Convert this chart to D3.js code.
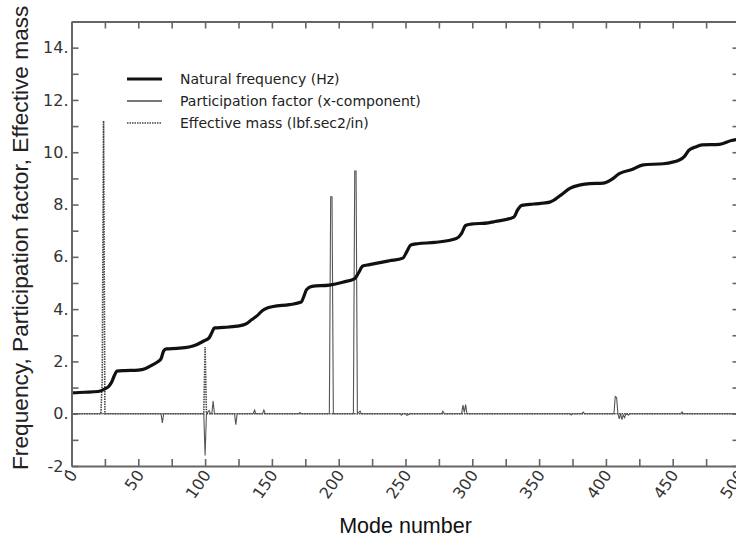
<!DOCTYPE html>
<html>
<head>
<meta charset="utf-8">
<script src="https://cdn.jsdelivr.net/npm/d3@7"></script>
<style>
  html, body { margin: 0; padding: 0; background: #fff; }
  svg { display: block; }
</style>
</head>
<body>
<svg id="chart" width="736" height="537"></svg>
<script>
// Natural frequency (Hz) by mode number
const freqModes  = [0, 10, 20, 25, 28, 30, 32, 34, 40, 50, 55, 60, 65, 67, 69, 71, 79, 88, 94, 99,
                    103, 105, 107, 114, 124, 130, 135, 139, 143, 147, 151, 163, 172, 174, 176, 180,
                    193, 203, 212, 215, 218, 223, 238, 248, 251, 254, 259, 272, 288, 292, 295, 299,
                    312, 317, 331, 334, 337, 346, 358, 366, 373, 381, 388, 398, 404, 410, 420, 428,
                    443, 455, 459, 462, 467, 472, 485, 494, 500];
const freqValues = [0.80, 0.82, 0.85, 0.95, 1.05, 1.20, 1.45, 1.63, 1.65, 1.67, 1.72, 1.85, 2.00, 2.10, 2.40, 2.48, 2.50, 2.55, 2.65, 2.78,
                    2.90, 3.10, 3.28, 3.30, 3.35, 3.42, 3.60, 3.75, 3.95, 4.05, 4.10, 4.17, 4.27, 4.50, 4.75, 4.87,
                    4.92, 5.03, 5.17, 5.40, 5.65, 5.70, 5.85, 5.95, 6.20, 6.45, 6.50, 6.55, 6.70, 6.90, 7.20, 7.25,
                    7.30, 7.35, 7.52, 7.80, 7.97, 8.02, 8.09, 8.35, 8.62, 8.75, 8.80, 8.82, 8.95, 9.18, 9.35, 9.52,
                    9.56, 9.70, 9.85, 10.07, 10.20, 10.28, 10.30, 10.45, 10.50];

// Participation factor (x-component)
const pfModes  = [0, 67, 68, 69, 99, 100, 101, 103, 104, 105, 106, 107, 122, 123, 124, 136, 137, 138, 143, 144, 145,
                  170, 171, 172, 193, 194, 195, 196, 211, 212, 213, 214, 216, 217, 246, 247, 248, 250, 251, 252, 253,
                  277, 278, 279, 292, 293, 294, 295, 296, 373, 374, 375, 382, 383, 384,
                  406, 407, 408, 409, 410, 411, 412, 413, 414, 415, 417, 418, 456, 457, 458, 500];
const pfValues = [0, 0, -0.35, 0, 0, -1.6, 0, 0.12, 0, 0, 0.48, 0, 0, -0.42, 0, 0, 0.14, 0, 0, 0.14, 0,
                  0, 0.05, 0, 0, 8.3, 8.3, 0, 0, 9.28, 9.28, 0, 0.1, 0, 0, -0.06, 0, 0, -0.06, -0.04, 0,
                  0, 0.1, 0, 0, 0.33, 0.05, 0.35, 0, 0, -0.05, 0, 0, 0.06, 0,
                  0, 0.66, 0.62, 0, -0.2, 0, -0.23, -0.05, -0.15, 0, -0.05, 0, 0, 0.07, 0, 0];

// Effective mass (lbf.sec2/in)
const emModes  = [0, 22, 23, 24, 25, 99, 100, 101, 500];
const emValues = [0, 0, 1.3, 11.2, 0, 0, 2.55, 0, 0];

// Axis ticks
const xTicks = d3.range(0, 501, 25);
const yTicks = d3.range(-2, 15, 1);

const legendLabels = ["Natural frequency (Hz)", "Participation factor (x-component)", "Effective mass (lbf.sec2/in)"];

const svg = d3.select("#chart");
const plotLeft = 71.5, plotRight = 739.5, plotTop = 21.5, plotBottom = 466;

const x = d3.scaleLinear().domain([0, 500]).range([plotLeft, plotRight]);
const y = d3.scaleLinear().domain([-2, 15]).range([plotBottom, plotTop]);

svg.append("defs").append("clipPath").attr("id", "plot")
  .append("rect").attr("x", plotLeft).attr("y", plotTop)
  .attr("width", plotRight - plotLeft).attr("height", plotBottom - plotTop);

const series = (modes, values) => modes.map((m, i) => [m, values[i]]);
const line = d3.line().x(d => x(d[0])).y(d => y(d[1]));
const smooth = d3.line().x(d => x(d[0])).y(d => y(d[1])).curve(d3.curveMonotoneX);

const plot = svg.append("g").attr("clip-path", "url(#plot)");

// Effective mass (dotted)
plot.append("path").datum(series(emModes, emValues))
  .attr("d", line).attr("fill", "none")
  .attr("stroke", "#444").attr("stroke-width", 1.6).attr("stroke-dasharray", "1.5,1");

// Participation factor (thin grey)
plot.append("path").datum(series(pfModes, pfValues))
  .attr("d", line).attr("fill", "none")
  .attr("stroke", "#555").attr("stroke-width", 1.1);

// Natural frequency (thick black)
plot.append("path").datum(series(freqModes, freqValues))
  .attr("d", smooth).attr("fill", "none")
  .attr("stroke", "#111").attr("stroke-width", 3.2).attr("stroke-linejoin", "round");

// Axes
const axisColor = "#666";
function styleAxis(g) {
  g.select(".domain").attr("stroke", axisColor).attr("stroke-width", 2);
  g.selectAll(".tick line").attr("stroke", axisColor).attr("stroke-width", 1.6);
  g.selectAll("text").attr("fill", "#333")
    .style("font-family", "'DejaVu Sans', Verdana, sans-serif").style("font-size", "16px");
}

const gx = svg.append("g").attr("transform", `translate(0,${plotBottom})`)
  .call(d3.axisBottom(x).tickValues(xTicks).tickSize(-7).tickSizeOuter(0)
    .tickFormat(d => d % 50 === 0 ? d : ""))
  .call(styleAxis);
gx.selectAll(".tick text")
  .attr("x", 0).attr("y", 0).attr("dy", 0)
  .attr("text-anchor", "end")
  .attr("transform", "translate(6,9) rotate(-55)");

svg.append("g").attr("transform", `translate(0,${plotTop})`)
  .call(d3.axisTop(x).tickValues(xTicks).tickSize(-7).tickSizeOuter(0).tickFormat(""))
  .call(styleAxis);

svg.append("g").attr("transform", `translate(${plotLeft},0)`)
  .call(d3.axisLeft(y).tickValues(yTicks).tickSize(-7).tickSizeOuter(0)
    .tickFormat(d => d % 2 === 0 ? d + "." : ""))
  .call(styleAxis);

svg.append("g").attr("transform", `translate(${plotRight},0)`)
  .call(d3.axisRight(y).tickValues(yTicks).tickSize(-7).tickSizeOuter(0).tickFormat(""))
  .call(styleAxis);

// Axis titles
svg.append("text")
  .attr("transform", "translate(28,470) rotate(-90)")
  .attr("text-anchor", "start")
  .style("font-family", "'Liberation Sans', Arial, sans-serif").style("font-size", "22.7px")
  .attr("fill", "#222")
  .text("Frequency, Participation factor, Effective mass");

svg.append("text")
  .attr("x", 405.5).attr("y", 532.5)
  .attr("text-anchor", "middle")
  .style("font-family", "'Liberation Sans', Arial, sans-serif").style("font-size", "21.5px")
  .attr("fill", "#111")
  .text("Mode number");

// Legend
const legendStyles = [
  { stroke: "#111", width: 3.2, dash: null },
  { stroke: "#777", width: 2, dash: null },
  { stroke: "#444", width: 1.4, dash: "1.5,1" }
];
const legendY = [79, 101, 123];
const legend = svg.append("g");
legendLabels.forEach((label, i) => {
  legend.append("line")
    .attr("x1", 127).attr("x2", 162).attr("y1", legendY[i]).attr("y2", legendY[i])
    .attr("stroke", legendStyles[i].stroke).attr("stroke-width", legendStyles[i].width)
    .attr("stroke-dasharray", legendStyles[i].dash);
  legend.append("text")
    .attr("x", 180).attr("y", legendY[i]).attr("dy", "0.35em")
    .style("font-family", "'DejaVu Sans', Verdana, sans-serif").style("font-size", "14px")
    .attr("fill", "#222")
    .text(label);
});
</script>
</body>
</html>
